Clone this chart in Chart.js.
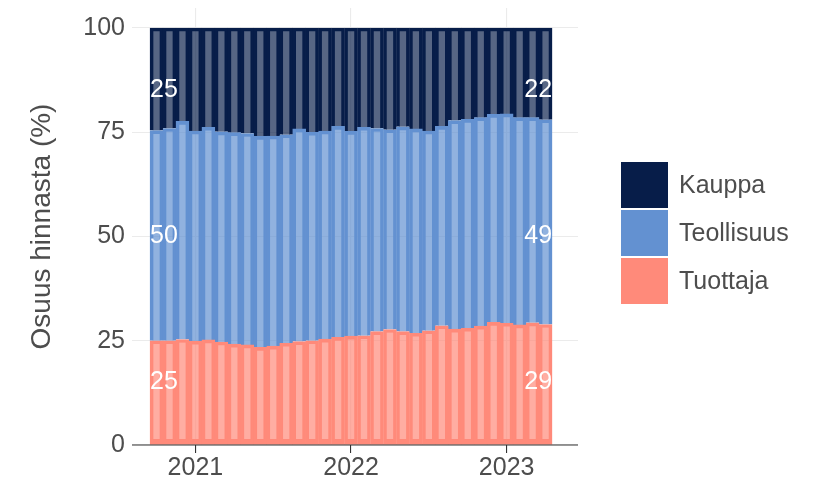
<!DOCTYPE html>
<html lang="fi">
<head>
<meta charset="utf-8">
<title>Osuus hinnasta</title>
<script src="https://cdn.jsdelivr.net/npm/chart.js@4.4.0/dist/chart.umd.min.js"></script>
<style>
  html, body { margin: 0; padding: 0; background: #ffffff; }
  #wrap { position: relative; width: 823px; height: 483px; }
</style>
</head>
<body>
<div id="wrap"><canvas id="shareChart"></canvas></div>
<script>
// Kuukaudet (x-akseli)
const months = [
  '2020-10', '2020-11', '2020-12',
  '2021-01', '2021-02', '2021-03', '2021-04', '2021-05', '2021-06',
  '2021-07', '2021-08', '2021-09', '2021-10', '2021-11', '2021-12',
  '2022-01', '2022-02', '2022-03', '2022-04', '2022-05', '2022-06',
  '2022-07', '2022-08', '2022-09', '2022-10', '2022-11', '2022-12',
  '2023-01', '2023-02', '2023-03', '2023-04'
];

// Osuudet hinnasta (%)
const tuottaja = [
  25.0, 25.0, 25.3, 24.9, 25.2, 24.7, 24.2, 24.0, 23.4, 23.7, 24.4,
  24.8, 25.0, 25.4, 25.8, 26.1, 26.2, 27.2, 27.7, 27.2, 26.8, 27.4,
  28.6, 27.8, 28.0, 28.5, 29.4, 29.2, 28.8, 29.3, 28.9
];
const teollisuus = [
  50.4, 50.9, 52.3, 50.4, 51.0, 50.4, 50.7, 50.7, 50.6, 50.4, 50.0,
  51.0, 50.0, 49.9, 50.6, 49.1, 50.0, 48.7, 47.9, 49.1, 49.0, 47.9,
  47.8, 50.0, 50.1, 50.0, 49.9, 50.2, 49.7, 49.2, 49.1
];
const kauppa = [
  24.6, 24.1, 22.4, 24.7, 23.8, 24.9, 25.1, 25.3, 26.0, 25.9, 25.6,
  24.2, 25.0, 24.7, 23.6, 24.8, 23.8, 24.1, 24.4, 23.7, 24.2, 24.7,
  23.6, 22.2, 21.9, 21.5, 20.7, 20.6, 21.5, 21.5, 22.0
];

const yTicks = [0, 25, 50, 75, 100];
const seriesNames = ['Tuottaja', 'Teollisuus', 'Kauppa'];
const seriesColors = ['#FF8A7A', '#6391D1', '#071D49'];
const seriesFills = ['rgba(255, 138, 122, 0.7)', 'rgba(99, 145, 209, 0.7)', 'rgba(7, 29, 73, 0.68)'];
// arvotekstien korkeus (asteikon arvoina)
const labelLevels = [15, 50, 85];

const FONT = '"Liberation Sans", Arial, Helvetica, sans-serif';
const TEXT_COLOR = '#4d4d4d';
const GRID_COLOR = '#ebebeb';

Chart.defaults.font.family = FONT;

// vuosien tikit tammikuun kohdalle
const yearTicks = months
  .map((m, i) => (m.endsWith('-01') ? i : null))
  .filter(i => i !== null);

function toPoints(values) {
  return values.map((v, i) => ({ x: i, y: v }));
}

const borderTop = { left: 3, right: 3, top: 3, bottom: 0 };
const borderBottom = { left: 3, right: 3, top: 3, bottom: 5 };
const seriesValues = [tuottaja, teollisuus, kauppa];

const datasets = seriesValues.map((values, i) => ({
  label: seriesNames[i],
  data: toPoints(values),
  backgroundColor: seriesFills[i],
  borderColor: seriesColors[i],
  borderWidth: i === 0 ? borderBottom : borderTop,
  borderSkipped: false,
  barPercentage: 1,
  categoryPercentage: 1
}));

// Akseliviiva, arvotekstit ja selite
const overlayPlugin = {
  id: 'overlay',
  afterDatasetsDraw(chart) {
    const ctx = chart.ctx;
    const area = chart.chartArea;
    const yScale = chart.scales.y;
    const y0 = yScale.getPixelForValue(0);

    ctx.save();
    ctx.strokeStyle = '#333333';
    ctx.lineWidth = 1.2;
    ctx.beginPath();
    ctx.moveTo(area.left, y0);
    ctx.lineTo(area.right, y0);
    ctx.stroke();

    ctx.fillStyle = '#ffffff';
    ctx.font = `25px ${FONT}`;
    ctx.textBaseline = 'middle';
    chart.data.datasets.forEach((ds, i) => {
      const meta = chart.getDatasetMeta(i);
      const first = meta.data[0];
      const last = meta.data[meta.data.length - 1];
      const ly = yScale.getPixelForValue(labelLevels[i]);
      ctx.textAlign = 'left';
      ctx.fillText(String(Math.round(ds.data[0].y)), first.x - first.width / 2, ly);
      ctx.textAlign = 'right';
      ctx.fillText(String(Math.round(ds.data[ds.data.length - 1].y)), last.x + last.width / 2, ly);
    });
    ctx.restore();
  },
  afterDraw(chart) {
    const ctx = chart.ctx;
    const boxX = 621, boxW = 47, boxH = 46, step = 48;
    let top = 162;
    ctx.save();
    ctx.font = `25px ${FONT}`;
    ctx.textBaseline = 'middle';
    ctx.textAlign = 'left';
    // kauppa ylimpänä kuten pinossa
    [...chart.data.datasets].reverse().forEach(ds => {
      ctx.fillStyle = ds.borderColor;
      ctx.fillRect(boxX, top, boxW, boxH);
      ctx.fillStyle = TEXT_COLOR;
      ctx.fillText(ds.label, boxX + boxW + 11, top + boxH / 2 + 1);
      top += step;
    });
    ctx.restore();
  }
};

const chart = new Chart('shareChart', {
  type: 'bar',
  data: { datasets },
  options: {
    responsive: true,
    maintainAspectRatio: false,
    animation: false,
    events: [],
    layout: { padding: { top: 8, right: 245, left: 0, bottom: 0 } },
    plugins: {
      legend: { display: false },
      tooltip: { enabled: false }
    },
    scales: {
      x: {
        type: 'linear',
        stacked: true,
        offset: false,
        min: -1.89,
        max: 32.5,
        afterBuildTicks: scale => {
          scale.ticks = yearTicks.map(v => ({ value: v }));
        },
        afterFit: scale => {
          scale.height = 38;
          scale.paddingLeft = 0;
          scale.paddingRight = 0;
        },
        ticks: {
          autoSkip: false,
          maxRotation: 0,
          padding: 0,
          color: TEXT_COLOR,
          font: { size: 25 },
          callback: value => months[value].slice(0, 4)
        },
        grid: {
          offset: false,
          color: GRID_COLOR,
          lineWidth: 1.1,
          tickColor: '#333333',
          tickWidth: 1.1,
          tickLength: 8
        },
        border: { display: false }
      },
      y: {
        stacked: true,
        min: 0,
        max: 104.8,
        afterBuildTicks: scale => {
          scale.ticks = yTicks.map(v => ({ value: v }));
        },
        afterFit: scale => {
          scale.width = 132;
          scale.paddingTop = 0;
          scale.paddingBottom = 0;
        },
        ticks: {
          padding: 7,
          color: TEXT_COLOR,
          font: { size: 25 }
        },
        grid: {
          color: GRID_COLOR,
          lineWidth: 1.1,
          drawTicks: false
        },
        border: { display: false },
        title: {
          display: true,
          text: 'Osuus hinnasta (%)',
          color: TEXT_COLOR,
          font: { size: 28 },
          padding: { top: 25, bottom: 0 }
        }
      }
    }
  },
  plugins: [overlayPlugin]
});
</script>
</body>
</html>
